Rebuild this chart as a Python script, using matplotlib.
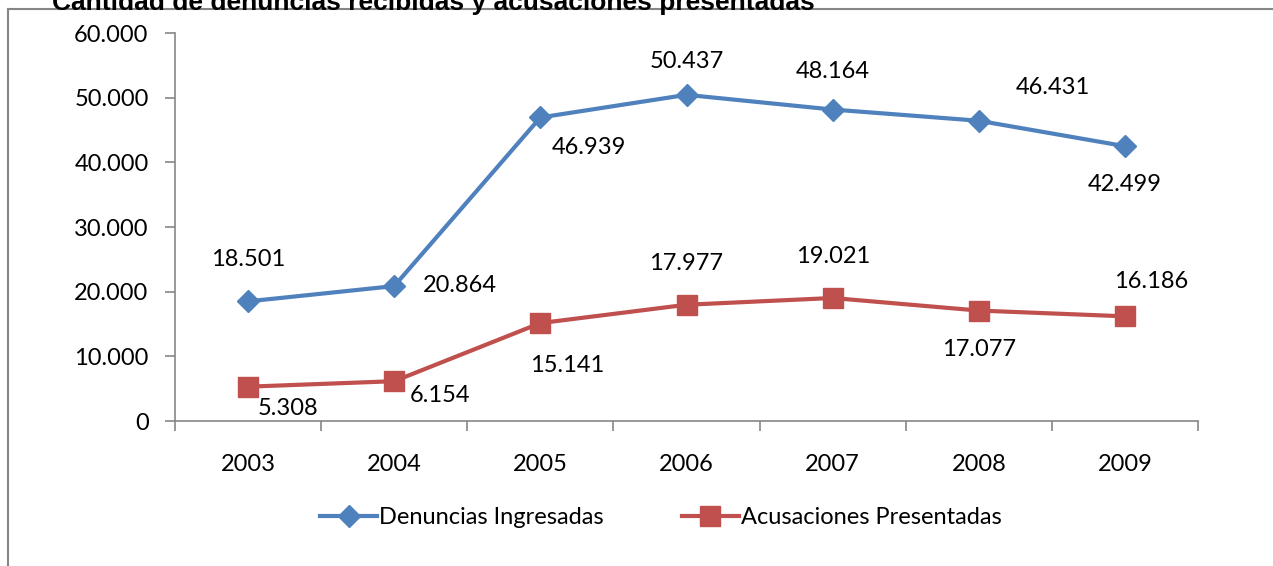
import matplotlib.pyplot as plt
from matplotlib.lines import Line2D
from matplotlib.ticker import FuncFormatter, FixedLocator
import numpy as np

years = ['2003', '2004', '2005', '2006', '2007', '2008', '2009']
denuncias = [18501, 20864, 46939, 50437, 48164, 46431, 42499]
acusaciones = [5308, 6154, 15141, 17977, 19021, 17077, 16186]

# label offsets in pixels (dx, dy) relative to each marker
den_off = [(0, 42), (66, 1), (49, -30), (0, 33), (0, 38), (74, 33), (0, -38)]
acu_off = [(40, -22), (46, -14), (27, -42), (0, 41), (0, 41), (0, -39), (26, 35)]

blue = '#4F81BD'
red = '#C0504D'
grey = '#868686'

plt.rcParams['font.family'] = ['Lato', 'DejaVu Sans']

fig = plt.figure(figsize=(12.73, 5.66), dpi=100)
ax = fig.add_axes([175 / 1273, 1 - 421 / 566, (1198 - 175) / 1273, (421 - 33) / 566])

x = np.arange(len(years))
ax.plot(x, denuncias, color=blue, lw=3, marker='D', ms=11, label='Denuncias Ingresadas')
ax.plot(x, acusaciones, color=red, lw=3, marker='s', ms=14, label='Acusaciones Presentadas')

def fmt(v):
    return '{:,}'.format(int(v)).replace(',', '.')

for xi, v, off in zip(x, denuncias, den_off):
    ax.annotate(fmt(v), (xi, v), xytext=off, textcoords='offset pixels',
                ha='center', va='center', fontsize=17)
for xi, v, off in zip(x, acusaciones, acu_off):
    ax.annotate(fmt(v), (xi, v), xytext=off, textcoords='offset pixels',
                ha='center', va='center', fontsize=17)

ax.set_xlim(-0.5, len(years) - 0.5)
ax.set_ylim(0, 60000)
ax.set_yticks(np.arange(0, 60001, 10000))
ax.yaxis.set_major_formatter(FuncFormatter(lambda v, p: fmt(v)))
ax.set_xticks(x)
ax.set_xticklabels(years)
ax.xaxis.set_minor_locator(FixedLocator(np.arange(-0.5, len(years), 1)))

for s in ['top', 'right']:
    ax.spines[s].set_visible(False)
for s in ['left', 'bottom']:
    ax.spines[s].set_color(grey)
    ax.spines[s].set_linewidth(1.2)

ax.tick_params(axis='y', length=7, color=grey, width=1.2, pad=12, labelsize=17)
ax.tick_params(axis='x', which='major', length=0, pad=24, labelsize=17)
ax.tick_params(axis='x', which='minor', length=7, color=grey, width=1.2)

leg = ax.legend(loc='center', bbox_to_anchor=(661 / 1273, 1 - 518 / 566),
                bbox_transform=fig.transFigure, ncol=2, frameon=False,
                fontsize=17, handlelength=2.4, handletextpad=0.1, columnspacing=3.3)

# outer chart frame (cut off on the right and bottom)
fig.add_artist(Line2D([8 / 1273, 8 / 1273], [0, 1 - 9 / 566], color=grey, lw=1.5))
fig.add_artist(Line2D([8 / 1273, 1], [1 - 9 / 566, 1 - 9 / 566], color=grey, lw=1.5))

# title, partly cut off at the top edge (as in the reference)
fig.text(52 / 1273, 1 - 10 / 566, 'Cantidad de denuncias recibidas y acusaciones presentadas',
         family='Liberation Sans', fontweight='bold', fontsize=19, ha='left', va='baseline')

fig.savefig('out.png', dpi=100)
